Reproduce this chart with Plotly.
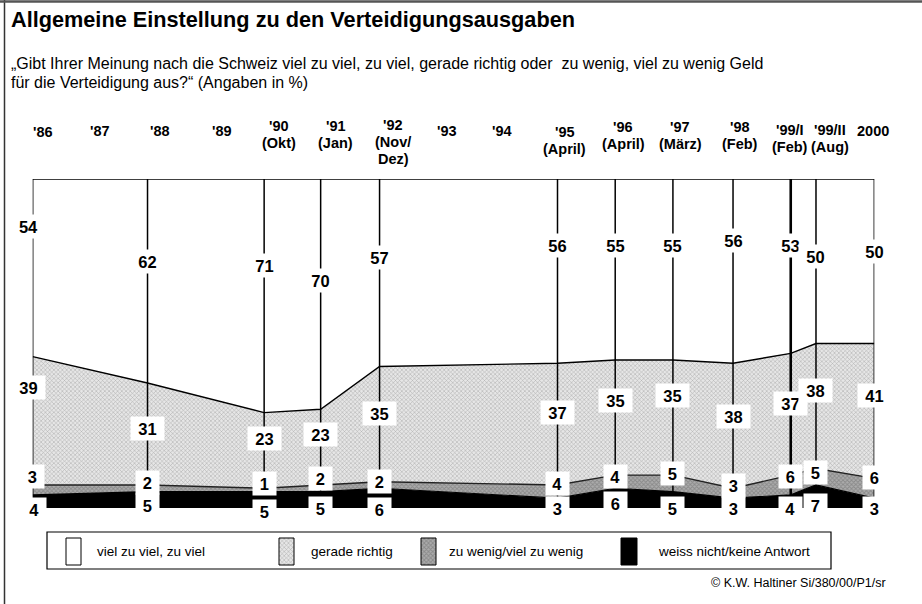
import plotly.graph_objects as go

W, H = 922, 604
FONT = "Liberation Sans, Arial, sans-serif"

# ---------------- data ----------------
survey_pos = [1986.00, 1987.91, 1989.85, 1990.79, 1991.77, 1994.73,
              1995.69, 1996.65, 1997.65, 1998.61, 1999.03, 2000.00]
viel_zu_viel = [54, 62, 71, 70, 57, 56, 55, 55, 56, 53, 50, 50]
gerade_richtig = [39, 31, 23, 23, 35, 37, 35, 35, 38, 37, 38, 41]
zu_wenig = [3, 2, 1, 2, 2, 4, 4, 5, 3, 6, 5, 6]
weiss_nicht = [4, 5, 5, 5, 6, 3, 6, 5, 3, 4, 7, 3]

year_ticks = ["'86", "'87", "'88", "'89", "'90<br>(Okt)", "'91<br>(Jan)",
              "'92<br>(Nov/<br>Dez)", "'93", "'94", "'95<br>(April)",
              "'96<br>(April)", "'97<br>(März)", "'98<br>(Feb)",
              "'99/I<br>(Feb)", "'99/II<br>(Aug)", "2000"]
year_tick_pos = [1986.17, 1987.12, 1988.12, 1989.15, 1990.10, 1991.04,
                 1992.00, 1992.89, 1993.81, 1994.85, 1995.82, 1996.77,
                 1997.77, 1998.60, 1999.27, 1999.97]
year_tick_center_px = [132, 131, 131, 131, 126, 126, 125, 131, 131, 132,
                       127, 127, 127, 130, 130, 131]

# label placement (value units) for the value boxes
top_label_y = [85.7, 74.8, 73.6, 69.0, 76.0, 79.9, 79.9, 79.9, 81.2, 79.9, 76.5, 77.9]
gerade_label_y = [36.5, 24.3, 21.0, 22.2, 28.6, 28.9, 32.8, 34.3, 27.7, 31.9, 35.6, 34.3]
wenig_label_y = [9.7, 7.9, 7.3, 9.1, 8.2, 7.6, 9.7, 10.6, 6.7, 9.7, 10.9, 9.4]
weiss_label_y = [-0.6, 0.9, -1.2, 0.0, -0.6, 0.0, 1.5, 0.0, -0.3, 0.0, 0.9, 0.0]

legend_names = ["viel zu viel, zu viel", "gerade richtig",
                "zu wenig/viel zu wenig", "weiss nicht/keine Antwort"]

# ---------------- styles ----------------
LIGHT_PAT = dict(shape="x", size=3, solidity=0.35, fgcolor="#7a7a7a", bgcolor="#e6e6e6")
DARK_PAT = dict(shape="x", size=3, solidity=0.5, fgcolor="#666666", bgcolor="#acacac")

# plot area in pixels (value 0 at y=508, value 100 at y=179)
PX0, PX1, PY_TOP, PY_ZERO = 32.7, 874.3, 179, 508
Y_MIN = -4
PY_BOT = PY_ZERO + (PY_ZERO - PY_TOP) / 100 * (-Y_MIN)

fig = go.Figure()

fig.add_trace(go.Scatter(x=survey_pos, y=weiss_nicht, stackgroup="s", mode="lines",
                         line=dict(color="black", width=1.2), fillcolor="black",
                         name=legend_names[3], hoverinfo="skip"))
fig.add_trace(go.Scatter(x=survey_pos, y=zu_wenig, stackgroup="s", mode="lines",
                         line=dict(color="#222222", width=1.4), fillpattern=DARK_PAT,
                         fillcolor="#a0a0a0",
                         name=legend_names[2], hoverinfo="skip"))
fig.add_trace(go.Scatter(x=survey_pos, y=gerade_richtig, stackgroup="s", mode="lines",
                         line=dict(color="black", width=1.4), fillpattern=LIGHT_PAT,
                         fillcolor="#d4d4d4",
                         name=legend_names[1], hoverinfo="skip"))
fig.add_trace(go.Scatter(x=survey_pos, y=viel_zu_viel, stackgroup="s", mode="lines",
                         line=dict(color="black", width=1.6), fillcolor="white",
                         name=legend_names[0], hoverinfo="skip"))

# legend swatches on a full-figure pixel overlay axis pair
swatches = [(66, 81, "white", None), (279, 294, "#d4d4d4", LIGHT_PAT),
            (421, 436, "#a0a0a0", DARK_PAT), (621, 637, "black", None)]
for x0, x1, col, pat in swatches:
    kw = dict(fillpattern=pat) if pat else {}
    fig.add_trace(go.Scatter(x=[x0, x1, x1, x0, x0], y=[538, 538, 565, 565, 538],
                             xaxis="x2", yaxis="y2", mode="lines", fill="toself",
                             fillcolor=col, line=dict(color="black", width=1),
                             hoverinfo="skip", showlegend=False, **kw))

shapes = []
for i, xp in enumerate(survey_pos):
    shapes.append(dict(type="line", xref="x", yref="y", x0=xp, x1=xp, y0=0, y1=100,
                       line=dict(color="black", width=2.6 if i == 9 else 1.5),
                       layer="above"))

def px(x):
    return x / W

def py(y):
    return 1 - y / H

# outer frame (left + top)
shapes.append(dict(type="line", xref="paper", yref="paper", x0=px(4.5), x1=px(4.5),
                   y0=0, y1=1, line=dict(color="#333333", width=1.5)))
shapes.append(dict(type="line", xref="paper", yref="paper", x0=0, x1=1,
                   y0=py(1.5), y1=py(1.5), line=dict(color="#555555", width=2.5)))
# legend box
shapes.append(dict(type="rect", xref="paper", yref="paper", x0=px(47), x1=px(831),
                   y0=py(569), y1=py(532), line=dict(color="black", width=1.2),
                   fillcolor="rgba(0,0,0,0)"))

annotations = []
annotations.append(dict(text="<b>Allgemeine Einstellung zu den Verteidigungsausgaben</b>",
                        xref="paper", yref="paper", x=px(9), y=py(20), xanchor="left",
                        yanchor="middle", showarrow=False,
                        font=dict(family=FONT, size=21.7, color="black")))
annotations.append(dict(text="„Gibt Ihrer Meinung nach die Schweiz viel zu viel, zu viel, gerade richtig oder  zu wenig, viel zu wenig Geld",
                        xref="paper", yref="paper", x=px(9), y=py(64), xanchor="left",
                        yanchor="middle", showarrow=False,
                        font=dict(family=FONT, size=16, color="black")))
annotations.append(dict(text="für die Verteidigung aus?“ (Angaben in %)",
                        xref="paper", yref="paper", x=px(9), y=py(83), xanchor="left",
                        yanchor="middle", showarrow=False,
                        font=dict(family=FONT, size=16, color="black")))

for t, xp, cy in zip(year_ticks, year_tick_pos, year_tick_center_px):
    for k, line in enumerate(t.split("<br>")):
        annotations.append(dict(text="<b>" + line + "</b>", xref="x", yref="paper", x=xp,
                                y=py(cy + 17 * k), xanchor="center", yanchor="middle",
                                showarrow=False,
                                font=dict(family=FONT, size=14.5, color="black")))

def box(val, xp, yv, shift):
    s = str(val)
    return dict(text="<b>" + s + "</b>", xref="x", yref="y", x=xp, y=yv,
                xanchor="center", yanchor="middle", showarrow=False,
                bgcolor="white", borderpad=0, width=12 + 10.5 * len(s), height=23,
                xshift=shift, font=dict(family=FONT, size=16.5, color="black"))

for i, xp in enumerate(survey_pos):
    sh = -4 if i == 0 else 0
    annotations.append(box(viel_zu_viel[i], xp, top_label_y[i], sh))
    annotations.append(box(gerade_richtig[i], xp, gerade_label_y[i], sh))
    annotations.append(box(zu_wenig[i], xp, wenig_label_y[i], 0))
    annotations.append(box(weiss_nicht[i], xp, weiss_label_y[i], 2 if i == 0 else 0))

legend_text_x = [95, 309, 447, 656]
for name, lx in zip(legend_names, legend_text_x):
    annotations.append(dict(text=name, xref="paper", yref="paper", x=px(lx), y=py(551),
                            xanchor="left", yanchor="middle", showarrow=False,
                            font=dict(family=FONT, size=13.5, color="black")))

annotations.append(dict(text="© K.W. Haltiner Si/380/00/P1/sr", xref="paper", yref="paper",
                        x=px(888), y=py(583), xanchor="right", yanchor="middle",
                        showarrow=False, font=dict(family=FONT, size=12.5, color="black")))

fig.update_layout(
    width=W, height=H,
    margin=dict(l=0, r=0, t=0, b=0),
    paper_bgcolor="white", plot_bgcolor="rgba(0,0,0,0)",
    showlegend=False,
    xaxis=dict(domain=[PX0 / W, PX1 / W], range=[1986, 2000], visible=False,
               fixedrange=True),
    yaxis=dict(domain=[1 - PY_BOT / H, 1 - PY_TOP / H], range=[Y_MIN, 100],
               visible=False, fixedrange=True),
    xaxis2=dict(domain=[0, 1], range=[0, W], visible=False, anchor="y2",
                fixedrange=True),
    yaxis2=dict(domain=[0, 1], range=[H, 0], visible=False, anchor="x2",
                fixedrange=True),
    shapes=shapes, annotations=annotations,
)

fig.write_html("out.html", config={"displayModeBar": False},
               post_script="document.body.style.margin='0';document.body.style.overflow='hidden';")
